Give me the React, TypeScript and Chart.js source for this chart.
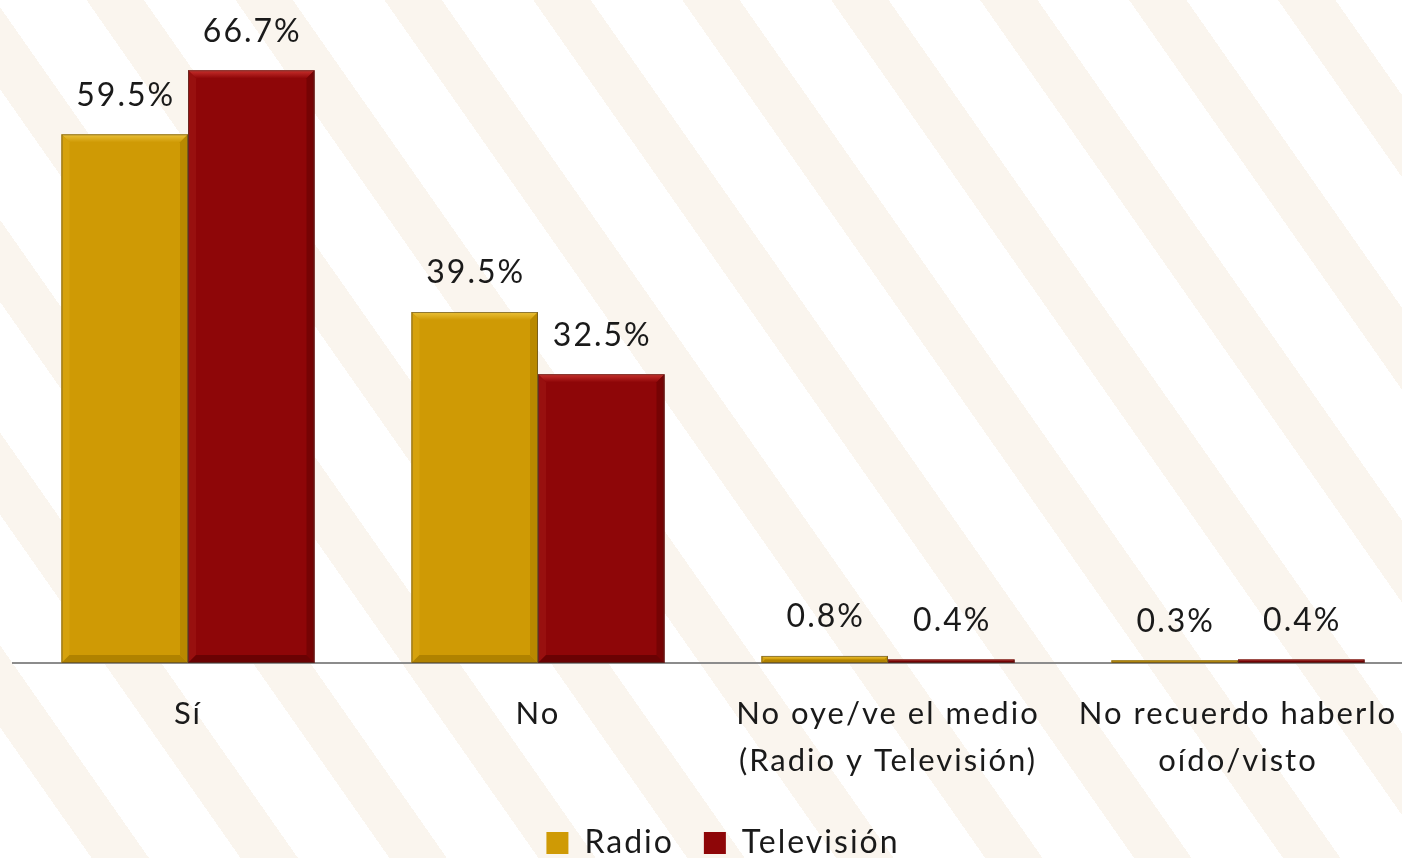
import React, { useEffect, useRef } from "react";
import { Chart, registerables } from "chart.js";

Chart.register(...registerables);

const categories: (string | string[])[] = [
  "Sí",
  "No",
  ["No oye/ve el medio", "(Radio y Televisión)"],
  ["No recuerdo haberlo", "oído/visto"],
];
const radioValues = [59.5, 39.5, 0.8, 0.3];
const tvValues = [66.7, 32.5, 0.4, 0.4];
const seriesNames = ["Radio", "Televisión"];

const FONT = "Lato";
const SPACING = "2px";
const CANVAS_W = 1433;
const CANVAS_H = 869;

const palette = [
  { main: "#cf9a05", top: "#ebc23a", left: "#d6a20c", right: "#b98900", bottom: "#b08200" },
  { main: "#8e0608", top: "#c8302c", left: "#98100f", right: "#760304", bottom: "#6a0203" },
];

const spacingPlugin = {
  id: "spacing",
  beforeLayout(chart: any) {
    (chart.ctx as any).letterSpacing = SPACING;
  },
  beforeDraw(chart: any) {
    (chart.ctx as any).letterSpacing = SPACING;
  },
};

const bevelPlugin = {
  id: "bevel",
  afterDatasetsDraw(chart: any) {
    const ctx = chart.ctx as CanvasRenderingContext2D;
    chart.data.datasets.forEach((_ds: any, di: number) => {
      const meta = chart.getDatasetMeta(di);
      const c = palette[di];
      meta.data.forEach((el: any) => {
        const { x, y, base, width } = el.getProps(["x", "y", "base", "width"], true);
        const l = x - width / 2;
        const r = x + width / 2;
        const t = Math.min(y, base);
        const b = Math.max(y, base);
        const h = b - t;
        if (h < 1) return;
        const bv = Math.min(8, h / 2);
        ctx.save();
        const poly = (pts: number[][], fill: string | CanvasGradient) => {
          ctx.beginPath();
          ctx.moveTo(pts[0][0], pts[0][1]);
          for (let i = 1; i < pts.length; i++) ctx.lineTo(pts[i][0], pts[i][1]);
          ctx.closePath();
          ctx.fillStyle = fill;
          ctx.fill();
        };
        const g = ctx.createLinearGradient(0, t, 0, t + bv);
        g.addColorStop(0, c.top);
        g.addColorStop(1, c.main);
        poly([[l, t], [r, t], [r - bv, t + bv], [l + bv, t + bv]], g);
        poly([[l, t], [l + bv, t + bv], [l + bv, b - bv], [l, b]], c.left);
        poly([[r, t], [r - bv, t + bv], [r - bv, b - bv], [r, b]], c.right);
        poly([[l, b], [l + bv, b - bv], [r - bv, b - bv], [r, b]], c.bottom);
        ctx.strokeStyle = "rgba(70,60,50,0.55)";
        ctx.lineWidth = 1;
        ctx.strokeRect(l + 0.5, t + 0.5, width - 1, h - 1);
        ctx.restore();
      });
    });
  },
};

const valueLabelPlugin = {
  id: "valueLabels",
  afterDatasetsDraw(chart: any) {
    const ctx = chart.ctx as CanvasRenderingContext2D;
    ctx.save();
    (ctx as any).letterSpacing = SPACING;
    ctx.font = `32px ${FONT}`;
    ctx.fillStyle = "#1a1a1a";
    ctx.textAlign = "center";
    ctx.textBaseline = "middle";
    chart.data.datasets.forEach((ds: any, di: number) => {
      const meta = chart.getDatasetMeta(di);
      meta.data.forEach((el: any, i: number) => {
        const v = ds.data[i];
        ctx.fillText(`${v.toFixed(1)}%`, el.x + 1, el.y - 39);
      });
    });
    ctx.restore();
  },
};

export default function App() {
  const ref = useRef<HTMLCanvasElement | null>(null);

  useEffect(() => {
    if (!ref.current) return;
    const chart = new Chart(ref.current, {
      type: "bar",
      data: {
        labels: categories as any,
        datasets: [
          {
            label: seriesNames[0],
            data: radioValues,
            backgroundColor: palette[0].main,
            borderColor: "#8a6a00",
            borderWidth: 0,
          },
          {
            label: seriesNames[1],
            data: tvValues,
            backgroundColor: palette[1].main,
            borderColor: "#5a0000",
            borderWidth: 0,
          },
        ],
      },
      options: {
        responsive: false,
        animation: false,
        categoryPercentage: 0.723,
        barPercentage: 1,
        layout: { padding: { left: 13, right: 0, top: 41, bottom: 0 } },
        plugins: {
          legend: {
            position: "bottom",
            labels: {
              font: { family: FONT, size: 32 },
              color: "#1a1a1a",
              boxWidth: 22,
              boxHeight: 22,
              padding: 30,
            },
          },
          tooltip: { enabled: false },
        },
        scales: {
          y: {
            display: true,
            position: "right",
            min: 0,
            max: 70,
            grid: { display: false, drawTicks: false },
            border: { display: false },
            ticks: { display: false },
            afterFit: (scale: any) => {
              scale.width = 20;
            },
          },
          x: {
            grid: { display: false, drawTicks: false },
            border: { display: true, color: "#8c8c8c", width: 2 },
            ticks: {
              font: { family: FONT, size: 31, lineHeight: 1.5 },
              color: "#1a1a1a",
              padding: 28,
              maxRotation: 0,
              autoSkip: false,
            },
            afterFit: (scale: any) => {
              scale.height = 134;
            },
          },
        },
      },
      plugins: [spacingPlugin, bevelPlugin, valueLabelPlugin],
    });
    return () => chart.destroy();
  }, []);

  return (
    <div
      style={{
        position: "fixed",
        left: 0,
        top: 0,
        width: 1402,
        height: 858,
        overflow: "hidden",
        background:
          "repeating-linear-gradient(55deg, #ffffff 0px, #ffffff 75px, #faf5ee 75px, #faf5ee 122px)",
      }}
    >
      <canvas ref={ref} width={CANVAS_W} height={CANVAS_H} style={{ display: "block" }} />
    </div>
  );
}
